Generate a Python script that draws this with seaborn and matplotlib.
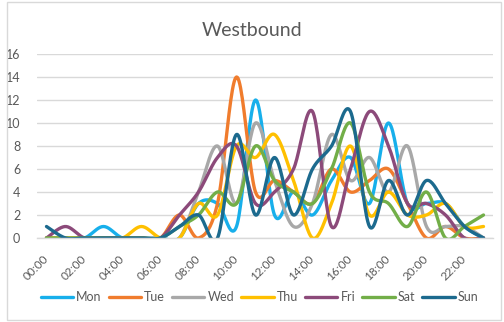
import numpy as np
import pandas as pd
import matplotlib
matplotlib.use("Agg")
import matplotlib.pyplot as plt
from matplotlib.patches import Rectangle
import seaborn as sns

# Hourly counts, Westbound
hours = ["00:00", "01:00", "02:00", "03:00", "04:00", "05:00", "06:00", "07:00",
         "08:00", "09:00", "10:00", "11:00", "12:00", "13:00", "14:00", "15:00",
         "16:00", "17:00", "18:00", "19:00", "20:00", "21:00", "22:00", "23:00"]
days = ["Mon", "Tue", "Wed", "Thu", "Fri", "Sat", "Sun"]
mon = [0, 0, 0, 1, 0, 0, 0, 0, 3, 3, 1, 12, 2, 4, 2, 5, 7, 3, 10, 3, 3, 3, 1, 0]
tue = [0, 0, 0, 0, 0, 0, 0, 2, 0, 3, 14, 4, 5, 4, 3, 6, 4, 5, 6, 3, 0, 1, 0, 0]
wed = [0, 0, 0, 0, 0, 0, 0, 0, 4, 8, 3, 10, 5, 1, 3, 9, 5, 7, 4, 8, 1, 1, 1, 0]
thu = [0, 0, 0, 0, 0, 1, 0, 0, 3, 2, 8, 7, 9, 5, 0, 3, 8, 2, 4, 2, 2, 3, 1, 1]
fri = [0, 1, 0, 0, 0, 0, 0, 2, 4, 7, 8, 3, 4, 6, 11, 1, 6, 11, 8, 3, 3, 2, 0, 0]
sat = [0, 0, 0, 0, 0, 0, 0, 1, 2, 4, 3, 8, 5, 4, 3, 6, 10, 4, 3, 1, 4, 0, 1, 2]
sun = [1, 0, 0, 0, 0, 0, 0, 1, 2, 0, 9, 2, 7, 2, 6, 8, 11, 1, 5, 2, 5, 3, 1, 0]
series = [mon, tue, wed, thu, fri, sat, sun]
colors = ["#17AFEB", "#F07C2D", "#A8A8A8", "#FFC000", "#8C4A7A", "#72AE48", "#1C6A8E"]


def smooth_curve(values, steps=24):
    """Cardinal (Catmull-Rom style) Bezier smoothing through the points."""
    pts = np.column_stack([np.arange(len(values), dtype=float),
                           np.asarray(values, dtype=float)])
    n = len(pts)
    t = np.linspace(0.0, 1.0, steps)[:, None]
    out = []
    for i in range(n - 1):
        p0 = pts[i - 1] if i > 0 else pts[i]
        p1 = pts[i]
        p2 = pts[i + 1]
        p3 = pts[i + 2] if i + 2 < n else pts[i + 1]
        c1 = p1 + (p2 - p0) / 6.0
        c2 = p2 - (p3 - p1) / 6.0
        seg = ((1 - t) ** 3) * p1 + 3 * ((1 - t) ** 2) * t * c1 \
            + 3 * (1 - t) * (t ** 2) * c2 + (t ** 3) * p2
        out.append(seg if i == 0 else seg[1:])
    return np.vstack(out)


frames = []
for day, vals in zip(days, series):
    curve = smooth_curve(vals)
    frames.append(pd.DataFrame({"x": curve[:, 0], "y": curve[:, 1], "day": day}))
df = pd.concat(frames, ignore_index=True)

sns.set_theme(style="white")
plt.rcParams["font.family"] = ["Lato", "DejaVu Sans"]

W, H = 504, 322
fig = plt.figure(figsize=(W / 100, H / 100), dpi=100)
ax = fig.add_axes([37 / W, 1 - 238 / H, (493 - 37) / W, (238 - 54) / H])

sns.lineplot(data=df, x="x", y="y", hue="day", hue_order=days,
             palette=colors, sort=False, estimator=None, linewidth=2.4,
             ax=ax, legend=True)

ax.set_xlim(-0.5, 23.5)
ax.set_ylim(0, 16)
ax.set_yticks(range(0, 17, 2))
ax.set_xticks(range(0, 24, 2))
ax.set_xticklabels(hours[::2], rotation=45, ha="right", va="center",
                   rotation_mode="anchor")
ax.tick_params(axis="x", length=0, pad=14, labelsize=8.5, labelcolor="#595959")
ax.tick_params(axis="y", length=0, pad=12, labelsize=9, labelcolor="#595959")
ax.set_xlabel("")
ax.set_ylabel("")
ax.grid(axis="y", color="#D9D9D9", linewidth=1.0)
ax.set_axisbelow(True)
for side in ["top", "right", "left"]:
    ax.spines[side].set_visible(False)
ax.spines["bottom"].set_color("#D9D9D9")
ax.spines["bottom"].set_linewidth(1.0)

fig.text(252 / W, 1 - 30 / H, "Westbound", ha="center", va="center",
         fontsize=14, color="#595959")

sns.move_legend(ax, "center", bbox_to_anchor=(0.515, 1 - 297 / H),
                bbox_transform=fig.transFigure, ncol=7, frameon=False,
                title=None, fontsize=9, handlelength=2.6, handletextpad=0.25,
                columnspacing=0.55)
for txt in ax.get_legend().get_texts():
    txt.set_color("#595959")

fig.patches.append(Rectangle((7 / W, 2 / H), 494 / W, 318 / H,
                             transform=fig.transFigure, fill=False,
                             edgecolor="#D9D9D9", linewidth=1.0))

fig.savefig("out.png", dpi=100, facecolor="white")
